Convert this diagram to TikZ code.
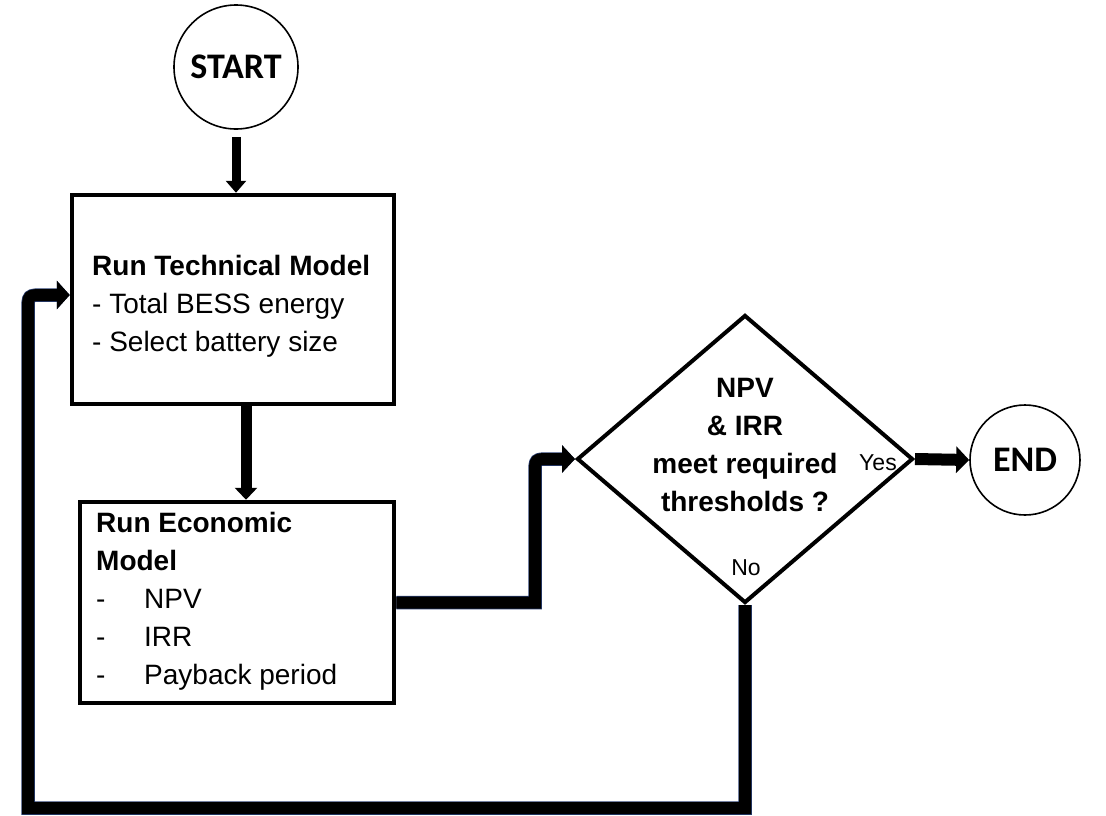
\documentclass[tikz,border=0pt]{standalone}
\usepackage{fontspec}
\setmainfont{Liberation Sans}
\newfontfamily\termfont{Carlito}
\usetikzlibrary{arrows.meta,shapes.geometric}
\definecolor{edgeblue}{RGB}{40,60,110}
\begin{document}
\begin{tikzpicture}[x=1pt,y=-1pt,
  boxshape/.style={draw, line width=4.5pt, inner sep=0pt},
  termshape/.style={draw, circle, line width=1.6pt, inner sep=0pt,
    font=\termfont\bfseries\fontsize{36}{36}\selectfont},
  bodytext/.style={inner sep=0pt, align=left, font=\fontsize{28}{38}\selectfont},
  smalltext/.style={inner sep=0pt, font=\fontsize{23}{23}\selectfont},
  thickarrow/.style={line width=#1, line join=miter},
  outlined/.style={preaction={draw=edgeblue, line width=#1}}
]
\useasboundingbox (0,0) rectangle (1106,815);

% nodes
\node[termshape, minimum size=124pt] (s) at (236,67) {START};
\node[boxshape, minimum width=322pt, minimum height=209pt] (b1) at (233,299.5) {};
\node[bodytext, anchor=north west] (t1) at (92,255)
  {\textbf{Run Technical Model}\\- Total BESS energy\\- Select battery size};
\node[boxshape, minimum width=314pt, minimum height=201pt] (b2) at (237,602.5) {};
\node[bodytext, anchor=north west] (t2) at (96,512)
  {\textbf{Run Economic}\\\textbf{Model}\\\makebox[48pt][l]{-}NPV\\\makebox[48pt][l]{-}IRR\\\makebox[48pt][l]{-}Payback period};
\node[draw, diamond, line width=4pt, inner sep=0pt, minimum width=336pt, minimum height=288pt] (d) at (745,459) {};
\node[bodytext, align=center, anchor=north, font=\bfseries\fontsize{28}{38}\selectfont] (dt) at (745,378)
  {NPV\\\& IRR\\meet required\\thresholds ?};
\node[smalltext] (yes) at (878,463) {Yes};
\node[smalltext] (no) at (746,568) {No};
\node[termshape, minimum size=110pt] (e) at (1025,460) {END};

% bend points
\coordinate (c1) at (535,602.5);
\coordinate (c2) at (535,474);
\coordinate (c3) at (535,459);
\coordinate (c4) at (550,459);
\coordinate (l1) at (745,808);
\coordinate (l2) at (28,808);
\coordinate (l3) at (28,311);
\coordinate (l4) at (28,295);
\coordinate (l5) at (44,295);

% connectors
\draw[thickarrow=9pt, -{Triangle[length=12pt,width=20pt]}]
  ([yshift=-7pt]s.south) -- (s.south |- b1.north);
\draw[thickarrow=11pt, -{Triangle[length=12pt,width=22pt]}]
  ([xshift=13pt]b1.south) -- ([xshift=13pt]b1.south |- b2.north);
\draw[thickarrow=12pt, outlined=13.5pt, -{Triangle[length=13pt,width=27pt]}]
  (b2.east) -- (c1) -- (c2) .. controls (c3) .. (c4) -- (d.west);
\draw[thickarrow=12pt, -{Triangle[length=13pt,width=26pt]}]
  (d.east) -- (e.west);
\draw[thickarrow=12pt, outlined=13.5pt, -{Triangle[length=13pt,width=28pt]}]
  (d.south) -- (l1) -- (l2) -- (l3) .. controls (l4) .. (l5) -- (b1.west |- l5);
\end{tikzpicture}
\end{document}
